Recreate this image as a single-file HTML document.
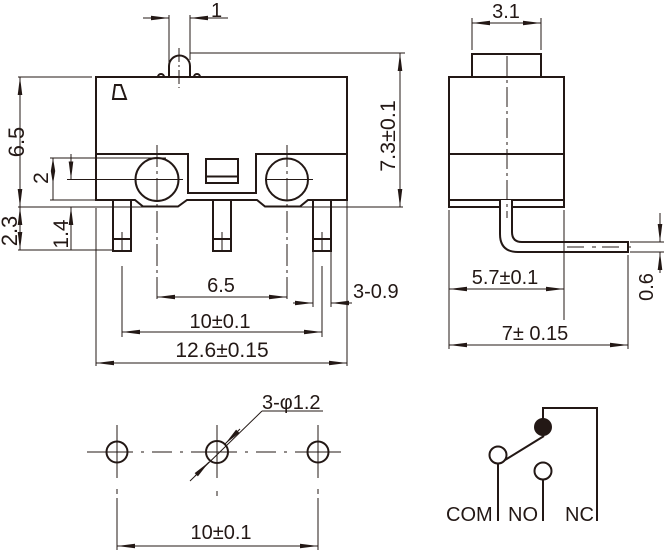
<!DOCTYPE html>
<html><head><meta charset="utf-8"><style>
html,body{margin:0;padding:0;background:#fff;}
svg{display:block;}
text{font-family:"Liberation Sans",Arial,sans-serif;font-size:20px;fill:#231815;}
</style></head><body>
<svg width="666" height="551" viewBox="0 0 666 551" xmlns="http://www.w3.org/2000/svg">
<defs>
<marker id="a" markerWidth="20" markerHeight="6" refX="0" refY="0" viewBox="-20 -3 20 6" orient="auto-start-reverse" markerUnits="userSpaceOnUse" overflow="visible"><path d="M0,0 L-18,-2.3 L-18,2.3 Z" fill="#231815"/></marker>
<marker id="s" markerWidth="14" markerHeight="6" refX="0" refY="0" viewBox="-14 -3 14 6" orient="auto-start-reverse" markerUnits="userSpaceOnUse" overflow="visible"><path d="M0,0 L-13,-2.2 L-13,2.2 Z" fill="#231815"/></marker>
</defs>
<rect width="666" height="551" fill="#fff"/>

<!-- ===== FRONT VIEW ===== -->
<g fill="none" stroke="#231815" stroke-width="2" stroke-linejoin="miter">
<path d="M96,200 L96,77 L347,77 L347,200 L308,200 L300,206.5 L265,206.5 L257,200 L187,200 L178,206.5 L143,206.5 L135,200 Z"/>
<path d="M96,154 L188,154 L188,193 L256,193 L256,154 L347,154"/>
<circle cx="157" cy="179.5" r="21.5"/>
<circle cx="287" cy="179.5" r="21"/>
<rect x="206" y="159" width="32" height="24"/>
<line x1="206" y1="176.5" x2="238" y2="176.5"/>
<path d="M169,77 L169,66 A10.5,10.5 0 0 1 190,66 L190,77"/>
<path d="M158,77 A3,3 0 0 1 164,77"/>
<path d="M194,77 A3,3 0 0 1 200,77"/>
<polygon points="115,85 121,85 126,99 113,99"/>
<rect x="113" y="200" width="18" height="51"/>
<rect x="213" y="200" width="18" height="51"/>
<rect x="313" y="200" width="18" height="51"/>
<line x1="113" y1="239" x2="131" y2="239"/>
<line x1="213" y1="239" x2="231" y2="239"/>
<line x1="313" y1="239" x2="331" y2="239"/>
</g>

<g fill="none" stroke="#231815" stroke-width="1">
<!-- centerlines -->
<line x1="179" y1="48" x2="179" y2="88" stroke-dasharray="14 3 2 3"/>
<line x1="157" y1="145" x2="157" y2="300" stroke-dasharray="22 4 3 4"/>
<line x1="287" y1="145" x2="287" y2="300" stroke-dasharray="22 4 3 4"/>
<line x1="67" y1="179.5" x2="183" y2="179.5"/>
<line x1="265" y1="179.5" x2="313" y2="179.5"/>
<line x1="122" y1="232" x2="122" y2="251"/>
<line x1="222" y1="232" x2="222" y2="251"/>
<line x1="322" y1="232" x2="322" y2="251"/>
<line x1="122" y1="266" x2="122" y2="337"/>
<line x1="322" y1="266" x2="322" y2="337"/>
<!-- extension lines -->
<line x1="18" y1="77" x2="92" y2="77"/>
<line x1="50" y1="158" x2="166" y2="158"/>
<line x1="50" y1="200" x2="96" y2="200"/>
<line x1="18" y1="207" x2="143" y2="207"/>
<line x1="18" y1="250" x2="113" y2="250"/>
<line x1="190" y1="53" x2="405" y2="53"/>
<line x1="300" y1="207" x2="403" y2="207"/>
<line x1="96" y1="208" x2="96" y2="366"/>
<line x1="347" y1="201" x2="347" y2="366"/>
<line x1="313" y1="251" x2="313" y2="307"/>
<line x1="331" y1="251" x2="331" y2="307"/>
<line x1="169" y1="15" x2="169" y2="64"/>
<line x1="190" y1="15" x2="190" y2="60"/>
<!-- dimension lines -->
<line x1="143" y1="18" x2="169" y2="18" marker-end="url(#a)"/>
<line x1="228" y1="18" x2="190" y2="18" marker-end="url(#a)"/>
<line x1="20" y1="77" x2="20" y2="207" marker-start="url(#a)" marker-end="url(#a)"/>
<line x1="20" y1="207" x2="20" y2="250" marker-start="url(#a)" marker-end="url(#a)"/>
<line x1="53" y1="171" x2="53" y2="200"/>
<line x1="53" y1="171" x2="53" y2="158" marker-end="url(#s)"/>
<line x1="53" y1="171" x2="53" y2="184" marker-end="url(#s)"/>
<line x1="71" y1="154" x2="71" y2="179.5" marker-end="url(#a)"/>
<line x1="71" y1="250" x2="71" y2="207" marker-end="url(#a)"/>
<line x1="157" y1="297" x2="287" y2="297" marker-start="url(#a)" marker-end="url(#a)"/>
<line x1="122" y1="332" x2="322" y2="332" marker-start="url(#a)" marker-end="url(#a)"/>
<line x1="96" y1="363" x2="347" y2="363" marker-start="url(#a)" marker-end="url(#a)"/>
<line x1="293" y1="303" x2="313" y2="303" marker-end="url(#a)"/>
<line x1="352" y1="303" x2="331" y2="303" marker-end="url(#a)"/>
<line x1="400" y1="53" x2="400" y2="207" marker-start="url(#a)" marker-end="url(#a)"/>
</g>

<text x="211" y="17">1</text>
<text transform="translate(24,142) rotate(-90)" text-anchor="middle" style="font-size:22px">6.5</text>
<text transform="translate(48,178) rotate(-90)" text-anchor="middle" style="font-size:21px">2</text>
<text transform="translate(17,231) rotate(-90)" text-anchor="middle" style="font-size:22px">2.3</text>
<text transform="translate(68,234) rotate(-90)" text-anchor="middle" style="font-size:21px">1.4</text>
<text transform="translate(395,136) rotate(-90)" text-anchor="middle" style="font-size:21.5px">7.3±0.1</text>
<text x="221" y="292" text-anchor="middle">6.5</text>
<text x="220" y="328" text-anchor="middle">10±0.1</text>
<text x="222" y="357" text-anchor="middle" style="font-size:21px">12.6±0.15</text>
<text x="353" y="298">3-0.9</text>

<!-- ===== SIDE VIEW ===== -->
<g fill="none" stroke="#231815" stroke-width="2">
<rect x="472" y="54" width="69" height="23"/>
<rect x="449" y="77" width="115" height="130"/>
<line x1="449" y1="154" x2="564" y2="154"/>
<line x1="449" y1="200" x2="564" y2="200"/>
<path d="M500,200 L500,234 Q500,252 518,252 L628,252 L628,242 L522,242 Q512,242 512,232 L512,200" fill="#fff"/>
</g>
<g fill="none" stroke="#231815" stroke-width="1">
<line x1="507" y1="56" x2="507" y2="218" stroke-dasharray="20 4 3 4"/>
<line x1="567" y1="247" x2="637" y2="247" stroke-dasharray="17 8 4 6"/>
<line x1="472" y1="18" x2="472" y2="50"/>
<line x1="541" y1="18" x2="541" y2="50"/>
<line x1="472" y1="23" x2="541" y2="23" marker-start="url(#a)" marker-end="url(#a)"/>
<line x1="449" y1="210" x2="449" y2="349"/>
<line x1="564" y1="210" x2="564" y2="320"/>
<line x1="628" y1="255" x2="628" y2="349"/>
<line x1="630" y1="242" x2="664" y2="242"/>
<line x1="630" y1="252" x2="664" y2="252"/>
<line x1="449" y1="289" x2="564" y2="289" marker-start="url(#a)" marker-end="url(#a)"/>
<line x1="449" y1="345" x2="628" y2="345" marker-start="url(#a)" marker-end="url(#a)"/>
<line x1="660" y1="213" x2="660" y2="242" marker-end="url(#a)"/>
<line x1="660" y1="273" x2="660" y2="252" marker-end="url(#a)"/>
</g>
<text x="506" y="18" text-anchor="middle">3.1</text>
<text x="505" y="284" text-anchor="middle">5.7±0.1</text>
<text x="535" y="340" text-anchor="middle">7± 0.15</text>
<text transform="translate(653,287) rotate(-90)" text-anchor="middle">0.6</text>

<!-- ===== PCB LAYOUT ===== -->
<g fill="none" stroke="#231815" stroke-width="2">
<circle cx="117" cy="452" r="10.5"/>
<circle cx="217" cy="452" r="11"/>
<circle cx="318" cy="452" r="10.5"/>
</g>
<g fill="none" stroke="#231815" stroke-width="1">
<line x1="117" y1="425" x2="117" y2="478"/>
<line x1="217" y1="425" x2="217" y2="478"/>
<line x1="318" y1="425" x2="318" y2="478"/>
<line x1="87" y1="452" x2="345" y2="452" stroke-dasharray="46 8 3 8 20 8 3 8"/>
<line x1="117" y1="489" x2="117" y2="494"/>
<line x1="117" y1="498" x2="117" y2="550"/>
<line x1="318" y1="489" x2="318" y2="494"/>
<line x1="318" y1="498" x2="318" y2="550"/>
<line x1="217" y1="491" x2="217" y2="496"/>
<line x1="117" y1="546" x2="318" y2="546" marker-start="url(#a)" marker-end="url(#a)"/>
<line x1="190" y1="481" x2="262" y2="411"/>
<line x1="262" y1="411" x2="323" y2="411"/>
<line x1="195" y1="476" x2="209" y2="462" marker-end="url(#a)"/>
<line x1="240" y1="429" x2="225" y2="444" marker-end="url(#a)"/>
</g>
<text x="262" y="409">3-φ1.2</text>
<text x="221" y="539" text-anchor="middle">10±0.1</text>

<!-- ===== SCHEMATIC ===== -->
<g fill="none" stroke="#231815" stroke-width="2">
<path d="M543,420 L543,408 L597,408 L597,521"/>
<line x1="505" y1="460" x2="544" y2="436"/>
<line x1="498" y1="464" x2="498" y2="521"/>
<line x1="543" y1="480" x2="543" y2="521"/>
<circle cx="498" cy="455" r="8.5" fill="#fff"/>
<circle cx="543" cy="471" r="8.5" fill="#fff"/>
</g>
<circle cx="543" cy="427" r="9" fill="#231815"/>
<text x="446" y="521">COM</text>
<text x="508" y="521">NO</text>
<text x="565" y="521">NC</text>
</svg>
</body></html>
